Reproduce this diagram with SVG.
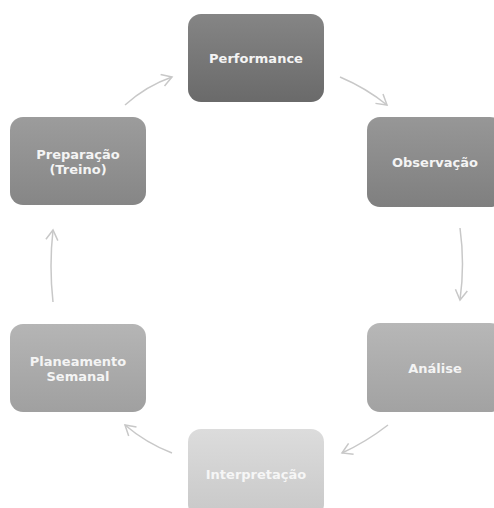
<svg xmlns="http://www.w3.org/2000/svg" width="494" height="508" viewBox="0 0 494 508">
<style>
.lbl{font-family:"DejaVu Sans","Liberation Sans",sans-serif;font-weight:bold;font-size:13px;fill:#f4f4f4;text-anchor:middle}
.lbl2{fill:#f6f6f6}
.cn{fill:none;stroke:#c8c8c8;stroke-width:1.5;marker-end:url(#ah)}
</style>
<defs>
<marker id="ah" viewBox="0 0 14 14" refX="12" refY="7" markerWidth="14" markerHeight="14" markerUnits="userSpaceOnUse" orient="auto">
<polyline points="2,1 12,7 2,13" fill="none" stroke="#c8c8c8" stroke-width="1.5"/>
</marker>
<linearGradient id="g1" x1="0" y1="0" x2="0" y2="1"><stop offset="0" stop-color="#858585"/><stop offset="1" stop-color="#6a6a6a"/></linearGradient>
<linearGradient id="g2" x1="0" y1="0" x2="0" y2="1"><stop offset="0" stop-color="#979797"/><stop offset="1" stop-color="#7f7f7f"/></linearGradient>
<linearGradient id="g3" x1="0" y1="0" x2="0" y2="1"><stop offset="0" stop-color="#b7b7b7"/><stop offset="1" stop-color="#a2a2a2"/></linearGradient>
<linearGradient id="g4" x1="0" y1="0" x2="0" y2="1"><stop offset="0" stop-color="#dcdcdc"/><stop offset="1" stop-color="#c8c8c8"/></linearGradient>
<linearGradient id="g5" x1="0" y1="0" x2="0" y2="1"><stop offset="0" stop-color="#b5b5b5"/><stop offset="1" stop-color="#a0a0a0"/></linearGradient>
<linearGradient id="g6" x1="0" y1="0" x2="0" y2="1"><stop offset="0" stop-color="#9c9c9c"/><stop offset="1" stop-color="#868686"/></linearGradient>
</defs>
<g id="connectors">
<path class="cn" d="M125,105 Q146,86 172,77"/>
<path class="cn" d="M340,77 Q366,88 387,105"/>
<path class="cn" d="M460,228 Q465,264 460,300"/>
<path class="cn" d="M53,302 Q49,266 53,230"/>
<path class="cn" d="M172,453 Q146,443 125,425"/>
<path class="cn" d="M388,425 Q366,442 342,453"/>
</g>
<g id="performance">
<rect x="188" y="14" width="136" height="88" rx="13" fill="url(#g1)"/>
<text class="lbl" x="256" y="63">Performance</text>
</g>
<g id="observacao">
<rect x="367" y="117" width="136" height="90" rx="13" fill="url(#g2)"/>
<text class="lbl" x="435" y="167">Observação</text>
</g>
<g id="analise">
<rect x="367" y="323" width="136" height="89" rx="13" fill="url(#g3)"/>
<text class="lbl" x="435" y="373">Análise</text>
</g>
<g id="interpretacao">
<rect x="188" y="429" width="136" height="88" rx="13" fill="url(#g4)"/>
<text class="lbl lbl2" x="256" y="479">Interpretação</text>
</g>
<g id="planeamento">
<rect x="10" y="324" width="136" height="88" rx="13" fill="url(#g5)"/>
<text class="lbl" x="78" y="366">Planeamento</text>
<text class="lbl" x="78" y="381">Semanal</text>
</g>
<g id="preparacao">
<rect x="10" y="117" width="136" height="88" rx="13" fill="url(#g6)"/>
<text class="lbl" x="78" y="159">Preparação</text>
<text class="lbl" x="78" y="174">(Treino)</text>
</g>
</svg>
